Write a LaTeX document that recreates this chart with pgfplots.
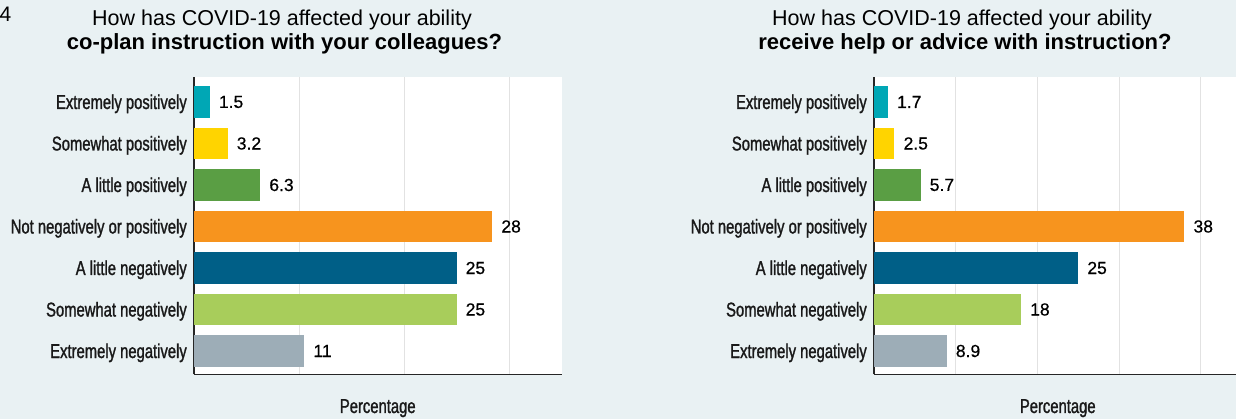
\documentclass[border=0pt]{standalone}
\usepackage{pgfplots}
\pgfplotsset{compat=1.18}
\usepackage{fontspec}
\setmainfont{Liberation Sans}
\newfontfamily\condfont[FakeStretch=0.74,FakeBold=1.3]{Liberation Sans}
\newfontfamily\valfont[FakeBold=0.5]{Liberation Sans}
\definecolor{bg}{HTML}{E9F1F3}
\definecolor{gridc}{HTML}{E2E2E2}
\definecolor{cEP}{HTML}{00A7B5}
\definecolor{cSP}{HTML}{FFD400}
\definecolor{cLP}{HTML}{5A9E44}
\definecolor{cN}{HTML}{F7941E}
\definecolor{cLN}{HTML}{005F87}
\definecolor{cSN}{HTML}{A8CD5B}
\definecolor{cEN}{HTML}{9DADB7}
\pgfplotsset{
 mybars/.style={
  xbar, bar width=0.75, bar shift=0pt,
  scale only axis, width=367.5pt, height=297.5pt,
  ymin=-0.566, ymax=6.602,
  xmin=0,
  ytick={0,...,6},
  yticklabels={Extremely negatively, Somewhat negatively, A little negatively, Not negatively or positively, A little positively, Somewhat positively, Extremely positively},
  yticklabel style={font=\condfont\fontsize{20}{22}\selectfont, anchor=base east, yshift=-7pt, inner sep=0pt, xshift=-7pt, text=black!90},
  xticklabels={}, major tick length=0pt,
  xmajorgrids, grid style={draw=gridc, line width=1pt},
  axis background/.style={fill=white},
  axis x line*=bottom, axis y line*=left,
  axis line style={-, draw=black!85, line width=1.3pt},
  xlabel={Percentage},
  xlabel style={font=\condfont\fontsize{20}{22}\selectfont, at={(0.5,0)}, anchor=base, yshift=-38.5pt, inner sep=0pt, text=black!90},
  nodes near coords, point meta=explicit symbolic,
  every node near coord/.append style={anchor=west, inner sep=0pt, xshift=9pt, font=\valfont\fontsize{17.5}{20}\selectfont, text=black},
 }
}
\begin{document}
\begin{tikzpicture}
\fill[bg] (0,0) rectangle (1236pt,419pt);
\node[anchor=base west, font=\fontsize{21}{24}\selectfont, inner sep=0pt] at (-0.5pt,397pt) {4};
\node[anchor=base, font=\fontsize{21.5}{24}\selectfont, inner sep=0pt] at (282pt,393pt) {How has COVID-19 affected your ability};
\node[anchor=base, font=\bfseries\fontsize{22}{24}\selectfont, inner sep=0pt] at (284.5pt,369pt) {co-plan instruction with your colleagues?};
\node[anchor=base, font=\fontsize{21.5}{24}\selectfont, inner sep=0pt] at (962pt,393pt) {How has COVID-19 affected your ability};
\node[anchor=base, font=\bfseries\fontsize{22}{24}\selectfont, inner sep=0pt] at (965pt,369pt) {receive help or advice with instruction?};

\begin{axis}[mybars, at={(194pt,44.5pt)}, anchor=south west, xmax=35, xtick={10,20,30}]
\addplot[fill=cEP, draw=none] coordinates {(1.5,6) [1.5]};
\addplot[fill=cSP, draw=none] coordinates {(3.2,5) [3.2]};
\addplot[fill=cLP, draw=none] coordinates {(6.3,4) [6.3]};
\addplot[fill=cN,  draw=none] coordinates {(28.4,3) [28]};
\addplot[fill=cLN, draw=none] coordinates {(25,2) [25]};
\addplot[fill=cSN, draw=none] coordinates {(25,1) [25]};
\addplot[fill=cEN, draw=none] coordinates {(10.5,0) [11]};
\end{axis}

\begin{axis}[mybars, at={(874pt,44.5pt)}, anchor=south west, xmax=45, xtick={10,20,30,40}]
\addplot[fill=cEP, draw=none] coordinates {(1.7,6) [1.7]};
\addplot[fill=cSP, draw=none] coordinates {(2.5,5) [2.5]};
\addplot[fill=cLP, draw=none] coordinates {(5.7,4) [5.7]};
\addplot[fill=cN,  draw=none] coordinates {(38,3) [38]};
\addplot[fill=cLN, draw=none] coordinates {(25,2) [25]};
\addplot[fill=cSN, draw=none] coordinates {(18,1) [18]};
\addplot[fill=cEN, draw=none] coordinates {(8.9,0) [8.9]};
\end{axis}
\pgfresetboundingbox
\useasboundingbox (0,0) rectangle (1236pt,419pt);
\end{tikzpicture}
\end{document}
